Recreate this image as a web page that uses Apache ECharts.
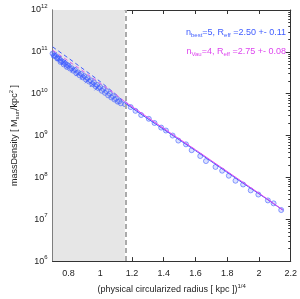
<!DOCTYPE html>
<html><head><meta charset="utf-8">
<script src="https://cdn.jsdelivr.net/npm/echarts@6/dist/echarts.min.js"></script>
<style>html,body{margin:0;padding:0;background:#fff}#c{width:300px;height:299px}</style>
</head><body><div id="c"></div>
<script>
// radius^(1/4) and log10 mass density (Msun/kpc^2)
var circX = [0.70,0.71,0.72,0.73,0.74,0.75,0.76,0.77,0.78,0.79,0.80,0.82,0.84,0.86,0.88,0.90,0.92,0.94,0.96,0.98,1.00,1.02,1.04,1.06,1.08,1.10,1.12,1.156,1.192,1.222,1.258,1.306,1.342,1.384,1.414,1.456,1.492,1.54,1.576,1.63,1.666,1.726,1.768,1.81,1.852,1.90,1.948,1.996,2.056,2.092,2.14];
var circLogY = [10.96,10.92,10.90,10.86,10.84,10.80,10.77,10.75,10.72,10.69,10.67,10.61,10.57,10.51,10.47,10.42,10.37,10.32,10.27,10.21,10.16,10.11,10.06,10.00,9.94,9.88,9.82,9.75,9.68,9.59,9.49,9.40,9.30,9.19,9.12,9.00,8.88,8.79,8.65,8.51,8.39,8.25,8.16,8.04,7.92,7.83,7.69,7.59,7.45,7.38,7.22];
var circ2X = [0.71,0.73,0.75,0.77,0.79,0.81,0.83,0.85,0.87,0.89,0.91,0.93,0.95,0.97,0.99,1.01,1.03,1.05,1.07,1.09,1.11,1.13];
var circ2LogY = [10.90,10.84,10.76,10.70,10.64,10.60,10.55,10.49,10.44,10.39,10.34,10.29,10.23,10.18,10.13,10.07,10.02,9.96,9.91,9.86,9.81,9.77];
var crossX = [0.71,0.74,0.77,0.80,0.83,0.86,0.89,0.92,0.95,0.98];
var crossLogY = [10.93,10.84,10.75,10.66,10.57,10.48,10.40,10.31,10.22,10.14];
var fitX = [0.70,0.80,0.90,1.00,1.10,1.155,1.30,1.45,1.60,1.75,1.90,2.05,2.15];
var bestLogY = [11.12,10.85,10.57,10.29,9.98,9.78,9.40,9.02,8.64,8.25,7.86,7.48,7.22];
var vauLogY = [11.04,10.78,10.52,10.25,9.98,9.81,9.43,9.04,8.66,8.27,7.88,7.49,7.22];
var innerCut = 1.155;
var xTicks = [0.8,1,1.2,1.4,1.6,1.8,2,2.2];
var yMajor = [6,7,8,9,10,11,12];

var yMinor = [];
yMajor.forEach(function(e){ if(e<12){ for(var k=2;k<10;k++){ yMinor.push(e+Math.log10(k)); } } });
function pairs(xs, ys){ return xs.map(function(x,i){ return [x, ys[i]]; }); }
function split(xs, ys, inner){ var o=[]; xs.forEach(function(x,i){ if(inner ? x<=innerCut+1e-9 : x>=innerCut-1e-9) o.push([x,ys[i]]); }); return o; }
var BLUE='#3f5cff', MAG='#dd44ee', AX='#333';
var fs=9, ff='Liberation Sans, Arial, sans-serif';
var chart = echarts.init(document.getElementById('c'), null, {renderer:'canvas'});
var baseY = {type:'value', min:6, max:12, interval:1, splitLine:{show:false}};
var circStyle = {color:'rgba(110,130,255,0.3)', borderColor:'rgba(60,90,255,0.9)', borderWidth:0.8};
chart.setOption({
  animation:false,
  grid:{left:41, right:9, top:10, bottom:33},
  xAxis:[
    {type:'value', min:0.7, max:2.2, position:'bottom',
     axisLine:{lineStyle:{color:AX,width:1}}, splitLine:{show:false},
     axisTick:{inside:true, length:4, customValues:xTicks, lineStyle:{color:AX}},
     axisLabel:{customValues:xTicks, color:'#222', fontSize:fs, fontFamily:ff, margin:8, formatter:function(v){return String(+v.toFixed(1));}},
     name:'(physical circularized radius [ kpc ]){sup|1/4}', nameLocation:'middle', nameGap:21,
     nameTextStyle:{color:'#222', fontSize:fs, fontFamily:ff, rich:{sup:{fontSize:6, padding:[0,0,7,0], fontFamily:ff, color:'#222'}}}},
    {type:'value', min:0.7, max:2.2, position:'top',
     axisLine:{lineStyle:{color:AX,width:1}}, splitLine:{show:false},
     axisTick:{inside:true, length:4, customValues:xTicks, lineStyle:{color:AX}},
     axisLabel:{show:false}}
  ],
  yAxis:[
    Object.assign({}, baseY, {position:'left',
     axisLine:{show:true, lineStyle:{color:AX}},
     axisTick:{inside:true, length:5, lineStyle:{color:AX}},
     axisLabel:{color:'#222', fontSize:fs, fontFamily:ff, margin:5,
       formatter:function(v){return '{b|10}{e|'+Math.round(v)+'}';},
       rich:{b:{fontSize:fs, fontFamily:ff, color:'#222'}, e:{fontSize:6, fontFamily:ff, color:'#222', padding:[0,0,7,0]}}},
     name:'massDensity [ M{sub|sun}/kpc{sup|2} ]', nameLocation:'middle', nameGap:28, nameRotate:90,
     nameTextStyle:{color:'#222', fontSize:fs, fontFamily:ff,
       rich:{sub:{fontSize:6, fontFamily:ff, color:'#222', padding:[5,0,0,0]}, sup:{fontSize:6, fontFamily:ff, color:'#222', padding:[0,0,7,0]}}}}),
    Object.assign({}, baseY, {position:'left', axisLine:{show:false},
     axisTick:{inside:true, length:2.5, customValues:yMinor, lineStyle:{color:AX}}, axisLabel:{show:false}}),
    Object.assign({}, baseY, {position:'right', axisLine:{show:true, lineStyle:{color:AX}},
     axisTick:{inside:true, length:5, lineStyle:{color:AX}}, axisLabel:{show:false}}),
    Object.assign({}, baseY, {position:'right', axisLine:{show:false},
     axisTick:{inside:true, length:2.5, customValues:yMinor, lineStyle:{color:AX}}, axisLabel:{show:false}})
  ],
  series:[
    {type:'line', data:[], silent:true,
     markArea:{silent:true, itemStyle:{color:'#e6e6e6'}, data:[[{xAxis:0.7},{xAxis:innerCut}]]},
     markLine:{silent:true, symbol:'none', label:{show:false}, lineStyle:{color:'#aaaaaa', type:[5,3], width:2}, data:[{xAxis:innerCut}]}},
    {type:'scatter', data:pairs(circX,circLogY), symbol:'circle', symbolSize:5, itemStyle:circStyle, z:3},
    {type:'scatter', data:pairs(circ2X,circ2LogY), symbol:'circle', symbolSize:5, itemStyle:circStyle, z:3},
    {type:'scatter', data:pairs(crossX,crossLogY), symbol:'path://M0,0L10,10M10,0L0,10', symbolSize:5,
     itemStyle:{color:'none', borderColor:BLUE, borderWidth:1}, z:4},
    {type:'line', data:split(fitX,bestLogY,true), showSymbol:false, lineStyle:{color:BLUE, width:1, type:[4,3]}, z:5},
    {type:'line', data:split(fitX,vauLogY,true), showSymbol:false, lineStyle:{color:MAG, width:1, type:[4,3], opacity:0.8}, z:5},
    {type:'line', data:split(fitX,bestLogY,false), showSymbol:false, lineStyle:{color:BLUE, width:1}, z:5},
    {type:'line', data:split(fitX,vauLogY,false), showSymbol:false, lineStyle:{color:MAG, width:1}, z:5}
  ],
  graphic:[
    {type:'text', right:14, top:28, style:{text:'n{s|best}=5, R{s|eff} =2.50 +- 0.11', fill:BLUE, font:fs+'px '+ff,
      rich:{s:{fontSize:6, fontFamily:ff, fill:BLUE, padding:[5,0,0,0]}}}},
    {type:'text', right:14, top:47, style:{text:'n{s|Vau}=4, R{s|eff} =2.75 +- 0.08', fill:MAG, font:fs+'px '+ff,
      rich:{s:{fontSize:6, fontFamily:ff, fill:MAG, padding:[5,0,0,0]}}}}
  ]
});
</script></body></html>
